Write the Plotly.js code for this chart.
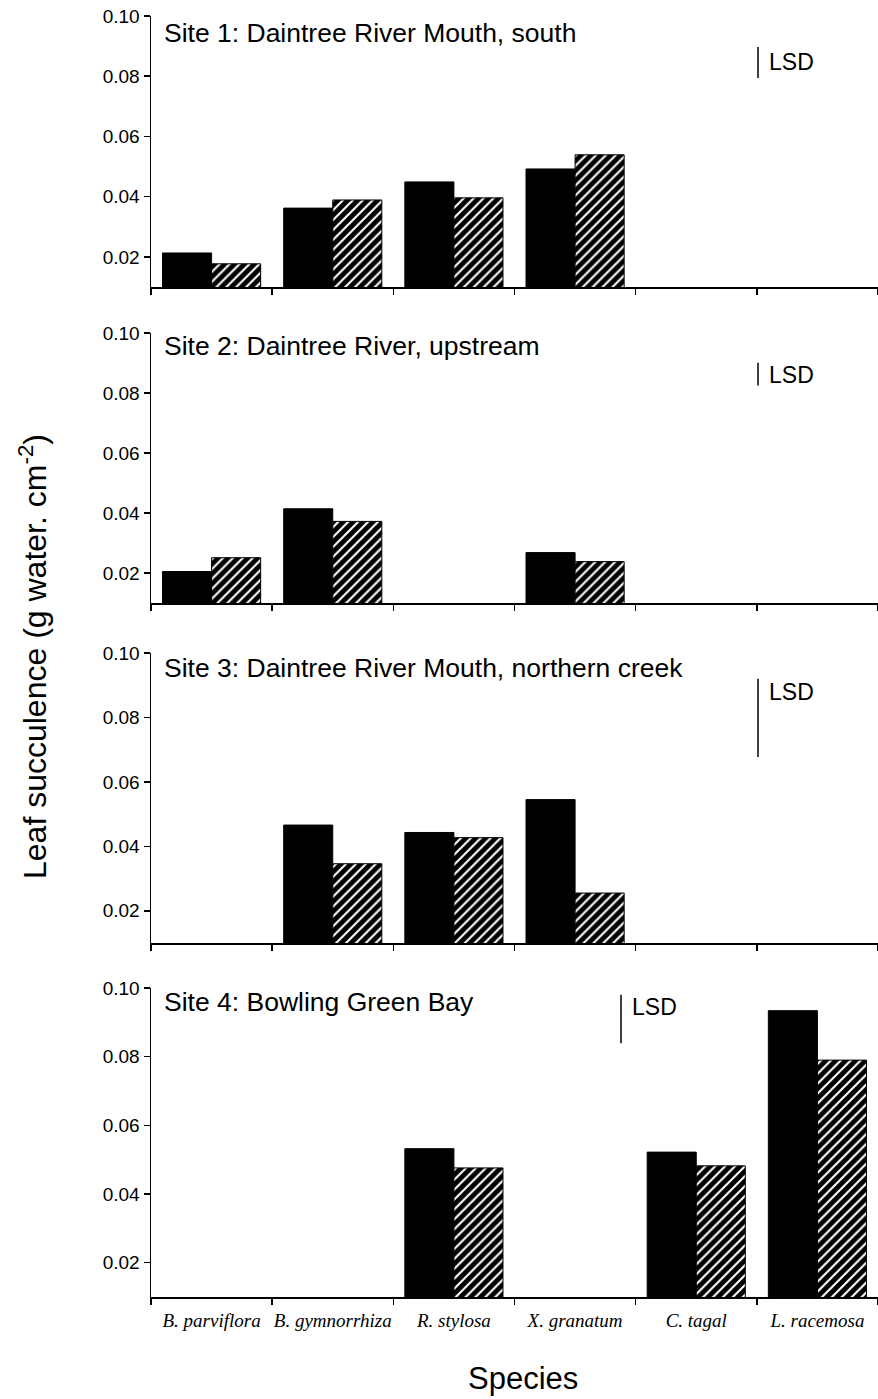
<!DOCTYPE html>
<html><head><meta charset="utf-8">
<script src="https://cdn.plot.ly/plotly-3.0.1.min.js"></script>
<style>html,body{margin:0;padding:0;background:#fff}#chart{width:878px;height:1399px}</style>
</head><body><div id="chart"></div>
<script>
// ---- data ----
const species = ['B. parviflora', 'B. gymnorrhiza', 'R. stylosa', 'X. granatum', 'C. tagal', 'L. racemosa'];
const siteTitles = [
  'Site 1: Daintree River Mouth, south',
  'Site 2: Daintree River, upstream',
  'Site 3: Daintree River Mouth, northern creek',
  'Site 4: Bowling Green Bay'
];
const site1Black   = [0.0213, 0.0362, 0.0449, 0.0492, null, null];
const site1Hatched = [0.0177, 0.0389, 0.0396, 0.0539, null, null];
const site2Black   = [0.0205, 0.0414, null, 0.0268, null, null];
const site2Hatched = [0.0251, 0.0372, null, 0.0238, null, null];
const site3Black   = [null, 0.0466, 0.0443, 0.0545, null, null];
const site3Hatched = [null, 0.0346, 0.0427, 0.0255, null, null];
const site4Black   = [null, null, 0.0532, null, 0.0522, 0.0934];
const site4Hatched = [null, null, 0.0476, null, 0.0482, 0.0790];
const lsdValues = [0.0103, 0.0076, 0.0243, 0.0141];
const yTickVals = [0.02, 0.04, 0.06, 0.08, 0.10];
const yTickText = ['0.02', '0.04', '0.06', '0.08', '0.10'];

// ---- layout helpers (pixel geometry) ----
const W = 878, H = 1399;
const px = x => x / W;
const py = y => 1 - y / H;
const panels = [
  {top: 16,  bottom: 287,  titleY: 33,   lsdTop: 0.0897, lsdX: 758, lsdTextY: 62},
  {top: 333, bottom: 603,  titleY: 346,  lsdTop: 0.0901, lsdX: 758, lsdTextY: 375},
  {top: 653, bottom: 943,  titleY: 668,  lsdTop: 0.0920, lsdX: 758, lsdTextY: 692},
  {top: 988, bottom: 1297, titleY: 1002, lsdTop: 0.0980, lsdX: 621, lsdTextY: 1007}
];
const blackSeries = [site1Black, site2Black, site3Black, site4Black];
const hatchSeries = [site1Hatched, site2Hatched, site3Hatched, site4Hatched];

const sans = 'Liberation Sans, Arial, Helvetica, sans-serif';
const traces = [];
const layout = {
  width: W, height: H,
  margin: {l: 0, r: 0, t: 0, b: 0, pad: 0},
  paper_bgcolor: '#fff', plot_bgcolor: '#fff',
  showlegend: false,
  barmode: 'group', bargap: 0.19, bargroupgap: 0,
  font: {family: sans, color: '#000'},
  annotations: [], shapes: []
};

panels.forEach((p, i) => {
  const n = i === 0 ? '' : String(i + 1);
  const xa = 'x' + n, ya = 'y' + n;
  traces.push({
    type: 'bar', x: species, y: blackSeries[i], xaxis: xa, yaxis: ya,
    marker: {color: '#000', line: {color: '#000', width: 1}}, hoverinfo: 'skip'
  });
  traces.push({
    type: 'bar', x: species, y: hatchSeries[i], xaxis: xa, yaxis: ya,
    marker: {color: '#000', line: {color: '#000', width: 1},
      pattern: {shape: '/', fgcolor: '#fff', bgcolor: '#000', size: 7, solidity: 0.3, fillmode: 'replace'}},
    hoverinfo: 'skip'
  });
  layout['xaxis' + n] = {
    domain: [px(151), 1], anchor: ya, type: 'category',
    range: [-0.5, 5.5], tickson: 'boundaries',
    showline: true, linecolor: '#000', linewidth: 1.5,
    ticks: 'outside', ticklen: 6, tickwidth: 1.5, tickcolor: '#000',
    showgrid: false, zeroline: false,
    showticklabels: i === 3, tickangle: 0, ticklabelstandoff: 6,
    tickfont: {family: 'Liberation Serif, Times New Roman, serif', size: 19, style: 'italic', color: '#000'},
    fixedrange: true
  };
  layout['yaxis' + n] = {
    domain: [py(p.bottom), py(p.top)], anchor: xa,
    range: [0.01, 0.10],
    tickvals: yTickVals, ticktext: yTickText,
    showline: true, linecolor: '#000', linewidth: 1.5,
    ticks: 'outside', ticklen: 6, tickwidth: 1.5, tickcolor: '#000',
    showgrid: false, zeroline: false,
    tickfont: {family: sans, size: 19, color: '#000'},
    fixedrange: true
  };
  layout.annotations.push({
    text: siteTitles[i], xref: 'paper', yref: 'paper',
    x: px(162), y: py(p.titleY), xanchor: 'left', yanchor: 'middle',
    showarrow: false, font: {family: sans, size: 26.5, color: '#000'}
  });
  layout.annotations.push({
    text: 'LSD', xref: 'paper', yref: 'paper',
    x: px(p.lsdX + 9), y: py(p.lsdTextY), xanchor: 'left', yanchor: 'middle',
    showarrow: false, font: {family: sans, size: 23, color: '#000'}
  });
  layout.shapes.push({
    type: 'line', xref: 'paper', yref: ya,
    x0: px(p.lsdX), x1: px(p.lsdX),
    y0: p.lsdTop - lsdValues[i], y1: p.lsdTop,
    line: {color: '#000', width: 1.5}
  });
});

layout.annotations.push({
  text: 'Leaf succulence (g water. cm<sup>-2</sup>)', xref: 'paper', yref: 'paper',
  x: px(33), y: py(657), xanchor: 'center', yanchor: 'middle', textangle: -90,
  showarrow: false, font: {family: sans, size: 32, color: '#000'}
});
layout.annotations.push({
  text: 'Species', xref: 'paper', yref: 'paper',
  x: px(523), y: py(1378), xanchor: 'center', yanchor: 'middle',
  showarrow: false, font: {family: sans, size: 31, color: '#000'}
});

Plotly.newPlot('chart', traces, layout, {staticPlot: true, displayModeBar: false});
</script>
</body></html>
